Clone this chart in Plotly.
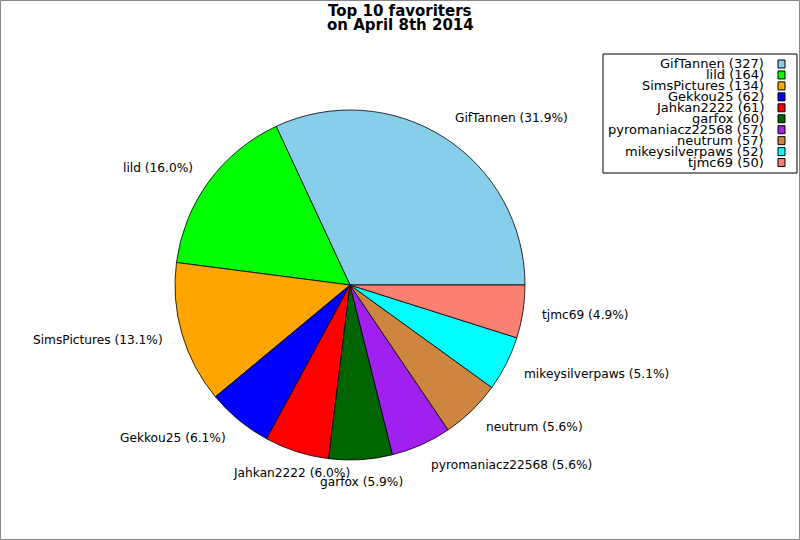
import math
import plotly.graph_objects as go

# ---- data ----
names = ["GifTannen", "lild", "SimsPictures", "Gekkou25", "Jahkan2222",
         "garfox", "pyromaniacz22568", "neutrum", "mikeysilverpaws", "tjmc69"]
counts = [327, 164, 134, 62, 61, 60, 57, 57, 52, 50]
colors = ["#87CEEB", "#00FF00", "#FFA500", "#0000FF", "#FF0000",
          "#006400", "#A020F0", "#CD853F", "#00FFFF", "#FA8072"]
title_lines = ["Top 10 favoriters", "on April 8th 2014"]

# ---- layout constants (pixels) ----
W, H = 800, 540
CX, CY, R = 350, 285, 175
FONT = "DejaVu Sans"


def px(x):
    return x / W


def py(y):
    return 1 - y / H


total = sum(counts)
# plotly's counterclockwise mode starts the first slice 'v1' degrees clockwise
# from `rotation`; shift so the first slice starts at 3 o'clock.
rotation = 90 - 360 * counts[0] / total

fig = go.Figure()
fig.add_trace(go.Pie(
    labels=names,
    values=counts,
    marker=dict(colors=colors, line=dict(color="black", width=0.8)),
    sort=False,
    direction="counterclockwise",
    rotation=rotation,
    textinfo="none",
    hoverinfo="label+value+percent",
    showlegend=False,
    domain=dict(x=[px(CX - R), px(CX + R)], y=[py(CY + R), py(CY - R)]),
))

annotations = []
shapes = []

# slice labels at 1.1 * radius
cum = 0
for name, v in zip(names, counts):
    theta = 2 * math.pi * (cum + v / 2) / total
    cum += v
    c, s = math.cos(theta), math.sin(theta)
    lx = CX + 1.1 * R * c
    ly = CY - 1.1 * R * s
    if c > 0.35:
        xa = "left"
    elif c < -0.35:
        xa = "right"
    else:
        xa = "center"
    annotations.append(dict(
        x=px(lx), y=py(ly), xref="paper", yref="paper",
        text=f"{name} ({100 * v / total:.1f}%)",
        showarrow=False, xanchor=xa, yanchor="middle", yshift=5 * s,
        font=dict(family=FONT, size=12.2, color="black"),
    ))

# title
for i, line in enumerate(title_lines):
    annotations.append(dict(
        x=px(400), y=py(11 + 14 * i), xref="paper", yref="paper",
        text=f"<b>{line}</b>", showarrow=False,
        xanchor="center", yanchor="middle",
        font=dict(family=FONT, size=15, color="black"),
    ))

# legend box
LX0, LY0, LX1, LY1 = 603, 54, 797, 173
shapes.append(dict(type="rect", xref="paper", yref="paper",
                   x0=px(LX0), x1=px(LX1), y0=py(LY1), y1=py(LY0),
                   line=dict(color="black", width=1), fillcolor="white", layer="below"))
ROW0, ROWH = 64, 10.95
for i, (name, v, col) in enumerate(zip(names, counts, colors)):
    yc = ROW0 + ROWH * i
    annotations.append(dict(
        x=px(766), y=py(yc), xref="paper", yref="paper",
        text=f"{name} ({v})", showarrow=False,
        xanchor="right", yanchor="middle",
        font=dict(family=FONT, size=13, color="black"),
    ))
    shapes.append(dict(type="rect", xref="paper", yref="paper",
                       x0=px(778), x1=px(785), y0=py(yc + 4), y1=py(yc - 4),
                       line=dict(color="black", width=1), fillcolor=col))

# figure frame
shapes.append(dict(type="rect", xref="paper", yref="paper",
                   x0=px(0.5), x1=px(799.5), y0=py(539.5), y1=py(0.5),
                   line=dict(color="#888888", width=1)))

fig.update_layout(
    width=W, height=H,
    margin=dict(l=0, r=0, t=0, b=0),
    paper_bgcolor="white",
    plot_bgcolor="white",
    annotations=annotations,
    shapes=shapes,
    showlegend=False,
)

fig.write_html("out.html",
               config={"displayModeBar": False},
               post_script="document.body.style.margin='0';document.body.style.overflow='hidden';")
